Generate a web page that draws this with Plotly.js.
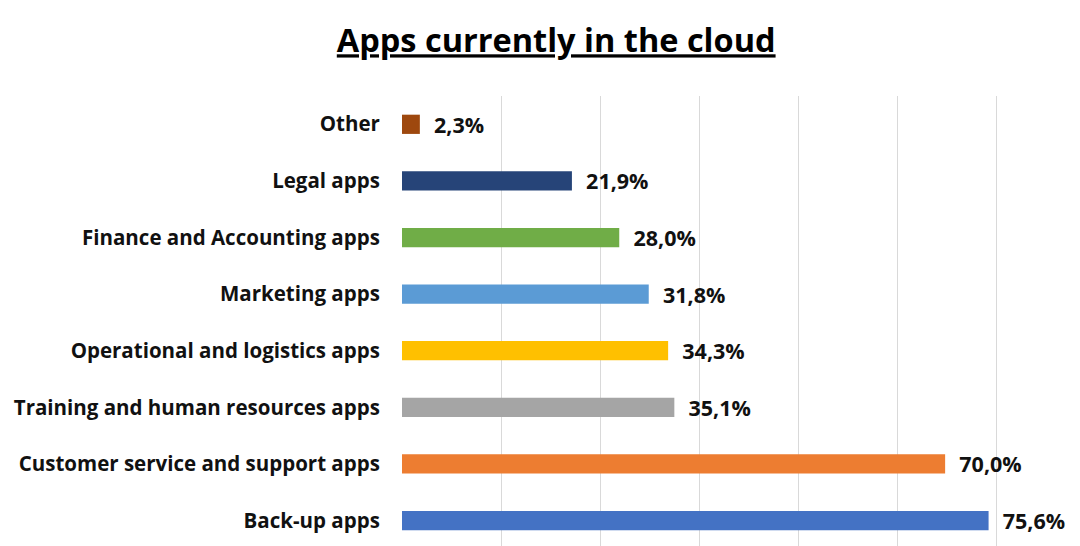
<!DOCTYPE html>
<html>
<head>
<meta charset="utf-8">
<script src="https://cdn.plot.ly/plotly-3.0.1.min.js"></script>
<style>html,body{margin:0;padding:0;background:#fff;}#chart{width:1080px;height:546px;}</style>
</head>
<body>
<div id="chart"></div>
<script>
const categories = ["Back-up apps","Customer service and support apps","Training and human resources apps","Operational and logistics apps","Marketing apps","Finance and Accounting apps","Legal apps","Other"];
const values = [75.6, 70.0, 35.1, 34.3, 31.8, 28.0, 21.9, 2.3];
const colors = ["#4472C4","#ED7D31","#A5A5A5","#FFC000","#5B9BD5","#70AD47","#264478","#9E480E"];

const FONT = "'Open Sans', 'Noto Sans', sans-serif";

const trace = {
  type: "bar",
  orientation: "h",
  y: categories,
  x: values,
  marker: {color: colors},
  width: 0.34,
  text: values,
  texttemplate: "  %{x:.1f}%",
  textposition: "outside",
  constraintext: "none",
  cliponaxis: false,
  textfont: {family: FONT, size: 21.5, color: "#111", weight: "bold"},
  hoverinfo: "none"
};

const layout = {
  width: 1080, height: 546,
  margin: {l: 402, r: 34, t: 96, b: 0},
  paper_bgcolor: "#fff", plot_bgcolor: "#fff",
  separators: ",.",
  showlegend: false,
  title: {
    text: "<b><u>Apps currently in the cloud</u></b>",
    font: {family: FONT, size: 32.5, color: "#000"},
    x: 0.515, xanchor: "center", y: 0.925, yanchor: "middle"
  },
  xaxis: {
    range: [0, 83], tick0: 0, dtick: 12.78,
    showgrid: true, gridcolor: "#D9D9D9", gridwidth: 1,
    zeroline: false, showticklabels: false, showline: false, ticks: ""
  },
  yaxis: {
    range: [-0.45, 7.5], type: "category",
    showgrid: false, zeroline: false, showline: false,
    ticks: "outside", ticklen: 17, tickcolor: "rgba(0,0,0,0)",
    tickfont: {family: FONT, size: 20.5, color: "#111", weight: "bold"}
  }
};

Plotly.newPlot("chart", [trace], layout, {displayModeBar: false, staticPlot: true});
</script>
</body>
</html>
